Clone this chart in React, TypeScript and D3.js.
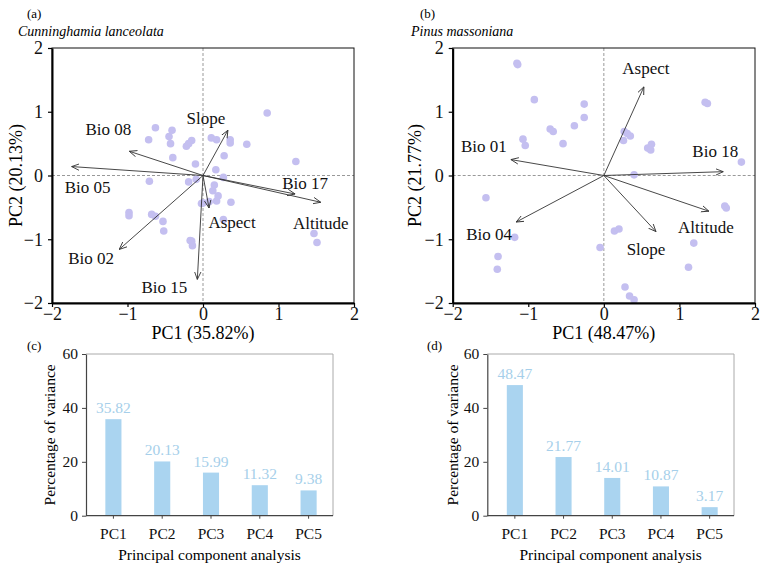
import React, { useEffect, useRef } from "react";
import * as d3 from "d3";

// principal components shown in the scree bars
const components = ["PC1", "PC2", "PC3", "PC4", "PC5"];
const varianceCunninghamia = [35.82, 20.13, 15.99, 11.32, 9.38];
const variancePinus = [48.47, 21.77, 14.01, 10.87, 3.17];

const biplotTicks = [-2, -1, 0, 1, 2];
const varianceTicks = [0, 20, 40, 60];

// sample scores (PC1, PC2)
const scoresCunninghamia: [number, number][] = [
  [-0.63, 0.75], [-0.41, 0.71], [-0.45, 0.61], [-0.43, 0.5], [-0.72, 0.56],
  [-0.15, 0.55], [-0.19, 0.5], [-0.22, 0.46], [-0.4, 0.28], [-0.1, 0.18],
  [-0.71, -0.09], [-0.19, -0.1], [-0.09, -0.06], [-0.02, -0.44], [-0.98, -0.58],
  [-0.98, -0.63], [-0.68, -0.61], [-0.63, -0.64], [-0.53, -0.72], [-0.52, -0.87],
  [-0.15, -1.03], [-0.14, -1.1], [-0.17, -1.02], [0.85, 0.98], [0.11, 0.59],
  [0.18, 0.56], [0.36, 0.56], [0.36, 0.51], [0.58, 0.49], [0.28, 0.31],
  [1.23, 0.22], [0.17, 0.09], [0.27, -0.03], [0.15, -0.15], [0.13, -0.24],
  [0.2, -0.32], [0.18, -0.4], [0.37, -0.42], [0.0, -0.43], [0.08, -0.41],
  [0.27, -0.69], [1.47, -0.91], [1.51, -1.05],
];

const scoresPinus: [number, number][] = [
  [-1.14, 1.74], [-1.15, 1.76], [-0.92, 1.19], [-0.26, 1.12], [-0.26, 0.91],
  [-0.39, 0.78], [-0.71, 0.73], [-0.67, 0.69], [-1.07, 0.57], [-1.04, 0.47],
  [-0.54, 0.5], [-1.56, -0.35], [-1.18, -0.97], [-1.4, -1.27], [-1.41, -1.47],
  [-0.05, -1.13], [1.34, 1.15], [1.37, 1.13], [0.27, 0.69], [0.31, 0.66],
  [0.35, 0.62], [0.26, 0.55], [0.58, 0.43], [0.63, 0.49], [0.62, 0.4],
  [1.82, 0.21], [0.4, 0.01], [1.6, -0.48], [1.62, -0.51], [0.14, -0.87],
  [0.2, -0.84], [1.19, -1.06], [1.12, -1.44], [0.28, -1.75], [0.34, -1.89],
  [0.4, -1.95],
];

// variable loadings (arrow tips)
const variablesCunninghamia = ["Bio 08", "Bio 05", "Slope", "Bio 17", "Altitude", "Aspect", "Bio 02", "Bio 15"];
const loadingsCunninghamia: [number, number][] = [
  [-0.976, 0.38], [-1.74, 0.14], [0.33, 0.71], [1.22, -0.29],
  [1.56, -0.42], [0.08, -0.51], [-1.11, -1.16], [-0.075, -1.63],
];

const variablesPinus = ["Aspect", "Bio 01", "Bio 18", "Bio 04", "Altitude", "Slope"];
const loadingsPinus: [number, number][] = [
  [0.53, 1.39], [-1.23, 0.25], [1.58, 0.06], [-1.16, -0.73], [1.39, -0.56], [0.69, -0.88],
];

// label nudges in px, relative to each arrow tip
const labelShiftA: Record<string, [number, number]> = {
  "Bio 08": [-21, -22], "Bio 05": [16, 20], Slope: [-22, -12], "Bio 17": [10, -11],
  Altitude: [0, 21], Aspect: [23, 14], "Bio 02": [-28, 9], "Bio 15": [-33, 8],
};
const labelShiftB: Record<string, [number, number]> = {
  Aspect: [2, -19], "Bio 01": [-27, -14], "Bio 18": [-8, -21],
  "Bio 04": [-27, 12], Altitude: [-3, 16], Slope: [-10, 17],
};

const FONT = "'Liberation Serif', 'Times New Roman', serif";
const W = 764;
const H = 569;

function drawBiplot(svg, o) {
  const x = d3.scaleLinear().domain([-2, 2]).range([o.left, o.right]);
  const y = d3.scaleLinear().domain([-2, 2]).range([o.bottom, o.top]);
  const g = svg.append("g");

  g.append("text").attr("x", o.tagX).attr("y", 18).attr("font-size", 13).text(o.tag);
  g.append("text")
    .attr("x", o.tagX - 9)
    .attr("y", 36)
    .attr("font-size", 14)
    .attr("font-style", "italic")
    .text(o.species);

  // zero reference lines
  g.append("line")
    .attr("x1", x(0)).attr("x2", x(0)).attr("y1", o.top).attr("y2", o.bottom)
    .attr("stroke", "#999").attr("stroke-dasharray", "3,2");
  g.append("line")
    .attr("x1", o.left).attr("x2", o.right).attr("y1", y(0)).attr("y2", y(0))
    .attr("stroke", "#999").attr("stroke-dasharray", "3,2");

  g.append("g")
    .selectAll("circle")
    .data(o.scores)
    .join("circle")
    .attr("cx", (d) => x(d[0]))
    .attr("cy", (d) => y(d[1]))
    .attr("r", 3.8)
    .attr("fill", "#c4bff0");

  g.append("g")
    .selectAll("line")
    .data(o.loadings)
    .join("line")
    .attr("x1", x(0))
    .attr("y1", y(0))
    .attr("x2", (d) => x(d[0]))
    .attr("y2", (d) => y(d[1]))
    .attr("stroke", "#333")
    .attr("stroke-width", 0.9)
    .attr("marker-end", "url(#openArrow)");

  g.append("g")
    .selectAll("text")
    .data(o.loadings)
    .join("text")
    .attr("x", (d, i) => x(d[0]) + o.shift[o.names[i]][0])
    .attr("y", (d, i) => y(d[1]) + o.shift[o.names[i]][1])
    .attr("dy", "0.35em")
    .attr("text-anchor", "middle")
    .attr("font-size", 17)
    .attr("fill", "#111")
    .text((d, i) => o.names[i]);

  g.append("rect")
    .attr("x", o.left).attr("y", o.top)
    .attr("width", o.right - o.left).attr("height", o.bottom - o.top)
    .attr("fill", "none").attr("stroke", "#111").attr("stroke-width", 1);

  const fmt = d3.format("d");
  const ax = g.append("g")
    .attr("transform", `translate(0,${o.bottom})`)
    .call(d3.axisBottom(x).tickValues(biplotTicks).tickFormat(fmt).tickSize(4).tickSizeOuter(0).tickPadding(0));
  const ay = g.append("g")
    .attr("transform", `translate(${o.left},0)`)
    .call(d3.axisLeft(y).tickValues(biplotTicks).tickFormat(fmt).tickSize(4).tickSizeOuter(0).tickPadding(5));
  [ax, ay].forEach((a) => {
    a.attr("font-family", FONT).attr("font-size", 18);
    a.select(".domain").attr("stroke", "#000").attr("stroke-width", 2);
    a.selectAll(".tick line").attr("stroke", "#000").attr("stroke-width", 1.2);
    a.selectAll(".tick text").attr("fill", "#111");
  });

  g.append("text")
    .attr("x", (o.left + o.right) / 2)
    .attr("y", o.bottom + 36)
    .attr("text-anchor", "middle")
    .attr("font-size", 18)
    .text(o.xTitle);
  g.append("text")
    .attr("transform", `translate(${o.yTitleX},${(o.top + o.bottom) / 2}) rotate(-90)`)
    .attr("text-anchor", "middle")
    .attr("font-size", 18)
    .text(o.yTitle);
}

function drawScree(svg, o) {
  const x = d3.scaleBand().domain(components).range([o.bandLeft, o.right]).paddingInner(0.67).paddingOuter(0.335);
  const y = d3.scaleLinear().domain([0, 60]).range([o.bottom, o.top]);
  const g = svg.append("g");

  g.append("text").attr("x", o.tagX).attr("y", 350).attr("font-size", 13).text(o.tag);

  // light frame on top and right
  g.append("path")
    .attr("d", `M${o.left},${o.top}H${o.right}V${o.bottom}`)
    .attr("fill", "none").attr("stroke", "#aaa").attr("stroke-width", 1);

  g.append("g")
    .selectAll("rect")
    .data(o.values)
    .join("rect")
    .attr("x", (d, i) => x(components[i]))
    .attr("y", (d) => y(d))
    .attr("width", x.bandwidth())
    .attr("height", (d) => o.bottom - y(d))
    .attr("fill", "#aad4f0");

  g.append("g")
    .selectAll("text")
    .data(o.values)
    .join("text")
    .attr("x", (d, i) => x(components[i]) + x.bandwidth() / 2)
    .attr("y", (d) => y(d) - 6)
    .attr("text-anchor", "middle")
    .attr("font-size", 15.5)
    .attr("fill", "#a6cfea")
    .text((d) => d.toFixed(2));

  const ax = g.append("g")
    .attr("transform", `translate(0,${o.bottom})`)
    .call(d3.axisBottom(x).tickSize(3).tickSizeOuter(0).tickPadding(9));
  ax.select(".domain").attr("d", `M${o.left},0H${o.right}`);
  const ay = g.append("g")
    .attr("transform", `translate(${o.left},0)`)
    .call(d3.axisLeft(y).tickValues(varianceTicks).tickSize(4).tickSizeOuter(0).tickPadding(4));
  [ax, ay].forEach((a) => {
    a.attr("font-family", FONT).attr("font-size", 15.5);
    a.select(".domain").attr("stroke", "#444").attr("stroke-width", 1.2);
    a.selectAll(".tick line").attr("stroke", "#444");
    a.selectAll(".tick text").attr("fill", "#111");
  });

  g.append("text")
    .attr("x", (o.left + o.right) / 2)
    .attr("y", o.bottom + 44)
    .attr("text-anchor", "middle")
    .attr("font-size", 15.5)
    .text("Principal component analysis");
  g.append("text")
    .attr("transform", `translate(${o.yTitleX},${(o.top + o.bottom) / 2}) rotate(-90)`)
    .attr("text-anchor", "middle")
    .attr("font-size", 15.5)
    .text("Percentage of variance");
}

export default function App() {
  const svgRef = useRef<SVGSVGElement>(null);

  useEffect(() => {
    const svg = d3.select(svgRef.current);
    svg.selectAll("*").remove();
    svg.attr("font-family", FONT);

    svg.append("defs")
      .append("marker")
      .attr("id", "openArrow")
      .attr("viewBox", "0 0 10 10")
      .attr("refX", 9.5)
      .attr("refY", 5)
      .attr("markerWidth", 8)
      .attr("markerHeight", 8)
      .attr("markerUnits", "userSpaceOnUse")
      .attr("orient", "auto")
      .append("path")
      .attr("d", "M0,1 L9.5,5 L0,9")
      .attr("fill", "none")
      .attr("stroke", "#333")
      .attr("stroke-width", 1.1);

    drawBiplot(svg, {
      left: 52, right: 354, top: 48, bottom: 303,
      tag: "(a)", tagX: 27, species: "Cunninghamia lanceolata",
      scores: scoresCunninghamia, loadings: loadingsCunninghamia,
      names: variablesCunninghamia, shift: labelShiftA,
      xTitle: "PC1 (35.82%)", yTitle: "PC2 (20.13%)", yTitleX: 22,
    });
    drawBiplot(svg, {
      left: 452.7, right: 755, top: 48, bottom: 303,
      tag: "(b)", tagX: 420, species: "Pinus massoniana",
      scores: scoresPinus, loadings: loadingsPinus,
      names: variablesPinus, shift: labelShiftB,
      xTitle: "PC1 (48.47%)", yTitle: "PC2 (21.77%)", yTitleX: 421,
    });

    drawScree(svg, {
      left: 86, bandLeft: 89, right: 333, top: 354, bottom: 515.7,
      tag: "(c)", tagX: 27, values: varianceCunninghamia, yTitleX: 55,
    });
    drawScree(svg, {
      left: 487.3, bandLeft: 490.5, right: 734, top: 354, bottom: 515.7,
      tag: "(d)", tagX: 427, values: variancePinus, yTitleX: 458,
    });
  }, []);

  return (
    <svg
      ref={svgRef}
      width={W}
      height={H}
      style={{ position: "absolute", left: 0, top: 0, background: "#fff" }}
    />
  );
}
